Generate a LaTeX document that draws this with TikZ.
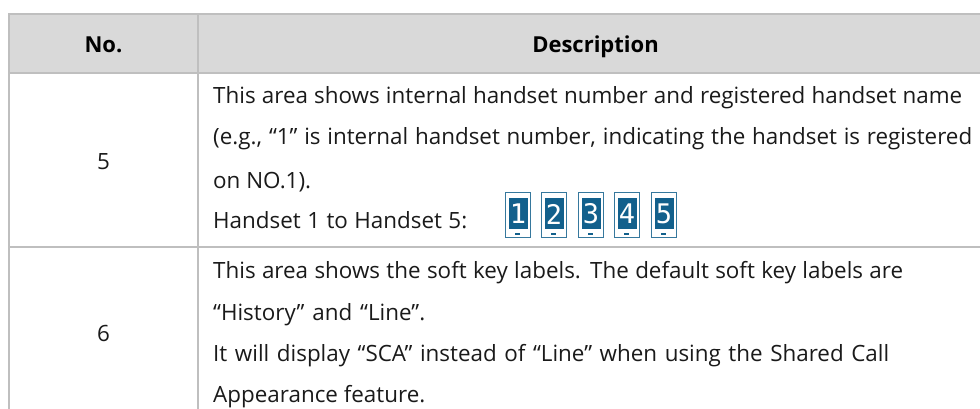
\documentclass[tikz,border=0pt]{standalone}
\usepackage{fontspec}
\setmainfont{Open Sans}
\newfontfamily\digitfont{DejaVu Sans Mono}
\definecolor{rule}{HTML}{BFBFBF}
\definecolor{head}{HTML}{D9D9D9}
\definecolor{ink}{HTML}{1A1A1A}
\definecolor{phone}{HTML}{12608C}
\tikzset{
  grid/.style={draw=rule,line width=1.4pt},
  txt/.style={anchor=base west,inner sep=0pt,text=ink,font=\fontsize{22.4}{26}\selectfont},
  cen/.style={anchor=base,inner sep=0pt,text=ink,font=\fontsize{22.4}{26}\selectfont},
  hd/.style={anchor=base,inner sep=0pt,text=black,font=\fontsize{22}{26}\selectfont\bfseries},
}
\newcommand{\fitline}[2]{\makebox[#1pt][s]{#2}}
\newcommand{\handset}[3]{%
  \begin{scope}[shift={(#1,#2)}]
    \draw[phone!85,line width=1.4pt,fill=white] (0.7,0.7) rectangle (25.3,45.3);
    \fill[phone] (3.5,6) rectangle (22.5,37);
    \fill[phone] (10,41) rectangle (15,43);
    \node[inner sep=0pt,text=white,font=\digitfont\fontsize{27}{27}\selectfont] at (13,22) {#3};
  \end{scope}}
\begin{document}
\begin{tikzpicture}[x=1pt,y=-1pt]
\useasboundingbox (0,0) rectangle (980,409);
\fill[head] (9,14) rectangle (980,73);
\draw[grid] (980,14) -- (9,14) -- (9,409);
\draw[grid] (198,14) -- (198,409);
\draw[grid] (9,73) -- (980,73);
\draw[grid] (9,247) -- (980,247);
\node[hd] (h1) at (103.5,53) {No.};
\node[hd] (h2) at (595.5,53) {Description};
\node[cen] (n5) at (103.5,170) {5};
\node[cen] (n6) at (103.5,341) {6};
\node[txt] (a1) at (213,103.5) {\fitline{749}{This area shows internal handset number and registered handset name}};
\node[txt] (a2) at (213,145) {\fitline{759}{(e.g., “1” is internal handset number, indicating the handset is registered}};
\node[txt] (a3) at (213,188) {on NO.1).};
\node[txt] (a4) at (213,228) {\fitline{254}{Handset 1 to Handset 5:}};
\handset{505}{192}{1}
\handset{541}{192}{2}
\handset{578}{192}{3}
\handset{614}{192}{4}
\handset{651}{192}{5}
\node[txt] (b1) at (213,278) {\fitline{690}{This area shows the soft key labels. The default soft key labels are}};
\node[txt] (b2) at (213,320) {\fitline{212}{“History” and “Line”.}};
\node[txt] (b3) at (213,361) {\fitline{676}{It will display “SCA” instead of “Line” when using the Shared Call}};
\node[txt] (b4) at (213,402) {Appearance feature.};
\end{tikzpicture}
\end{document}
